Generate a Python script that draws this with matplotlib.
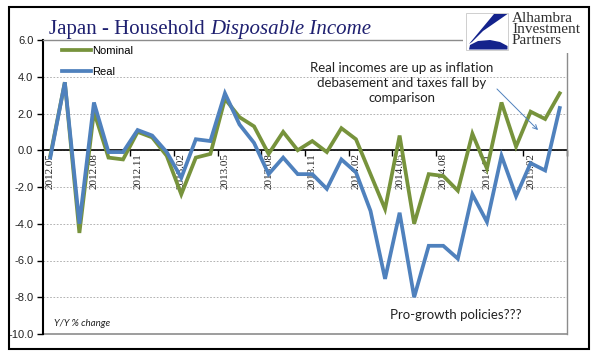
"""
Japan - Household Disposable Income, Y/Y % change (nominal vs real).
Recreates the Alhambra chart as out.png (596x361).
"""

import matplotlib
matplotlib.use("Agg")
import matplotlib.pyplot as plt
import numpy as np
from matplotlib.patches import Rectangle, Polygon

W, H = 596, 361

# monthly, 2012.05 .. 2015.04
tick_labels = ["2012.05", "2012.08", "2012.11", "2013.02", "2013.05", "2013.08",
               "2013.11", "2014.02", "2014.05", "2014.08", "2014.11", "2015.02"]
nominal = [-0.3, 3.7, -4.5, 2.1, -0.4, -0.5, 1.0, 0.7, -0.3, -2.4, -0.4, -0.2,
           2.8, 1.8, 1.3, -0.2, 1.0, 0.0, 0.5, -0.1, 1.2, 0.6, -1.3, -3.2,
           0.8, -4.0, -1.3, -1.4, -2.2, 0.9, -1.0, 2.6, 0.2, 2.1, 1.7, 3.1]
real = [-0.4, 3.7, -4.0, 2.6, -0.1, -0.1, 1.1, 0.8, -0.1, -1.5, 0.6, 0.5,
        3.1, 1.4, 0.4, -1.3, -0.4, -1.3, -1.3, -2.1, -0.5, -1.2, -3.3, -7.0,
        -3.4, -8.0, -5.2, -5.2, -5.9, -2.4, -3.9, -0.3, -2.5, -0.7, -1.1, 2.3]

GREEN = "#77933c"
BLUE = "#4f81bd"
GRAY = "#8c8c8c"


def px(x, y):
    """pixel position (top-left origin) -> figure fraction"""
    return x / W, 1 - y / H


fig = plt.figure(figsize=(W / 100, H / 100), dpi=100)
fig.patch.set_facecolor("white")

# plot area: x 43..567, y 40..334 px
ax = fig.add_axes([43 / W, 1 - 334 / H, (567 - 43) / W, (334 - 40) / H])
x = np.arange(len(real))
ax.plot(x, nominal, color=GREEN, lw=2.7, label="Nominal", zorder=3, solid_joinstyle="miter")
ax.plot(x, real, color=BLUE, lw=2.7, label="Real", zorder=4, solid_joinstyle="miter")

ax.set_xlim(-0.5, len(real) - 0.5)
ax.set_ylim(-10, 6)
ax.set_yticks(np.arange(-10, 7, 2))
ax.set_yticklabels([f"{v:.1f}" for v in np.arange(-10, 7, 2)],
                   fontfamily="Liberation Sans", fontsize=8, color="#222222")
ax.tick_params(axis="y", direction="out", length=4, width=1, color="black", pad=3)
ax.grid(axis="y", color="#a6a6a6", lw=0.6, ls=(0, (2, 2)))

# category axis crosses at zero
ax.spines["bottom"].set_position(("data", 0))
ax.spines["bottom"].set_color("black")
ax.spines["bottom"].set_linewidth(1.2)
ax.spines["bottom"].set_zorder(2)
ax.set_xticks(np.arange(-0.5, len(real), 3)[1:])
ax.set_xticklabels([])
ax.tick_params(axis="x", which="major", direction="out", length=4, width=1, color="black")
ax.set_xticks(np.arange(0, len(real), 3), minor=True)
ax.set_xticklabels(tick_labels, minor=True, rotation=90, fontfamily="Liberation Serif",
                   fontsize=8, color="#222222")
ax.tick_params(axis="x", which="minor", length=0, pad=2)
ax.axhline(-10, color=GRAY, lw=1.2, clip_on=False, zorder=2)

ax.spines["left"].set_color("black")
ax.spines["left"].set_linewidth(1.5)
for s in ("top", "right"):
    ax.spines[s].set_color(GRAY)
    ax.spines[s].set_linewidth(1.0)

leg = ax.legend(loc="upper left", bbox_to_anchor=(px(52, 36)), bbox_transform=fig.transFigure,
                frameon=False, handlelength=2.6, handletextpad=0.1, labelspacing=0.95,
                prop={"family": "Liberation Sans", "size": 8})

# title
t1 = fig.text(*px(49, 34), "Japan - Household ", fontfamily="Liberation Serif",
              fontsize=15, color="#1f2070", va="baseline")
fig.canvas.draw()
bb = t1.get_window_extent()
fig.text(bb.x1 / W, 1 - 34 / H, "Disposable Income", fontfamily="Liberation Serif",
         fontstyle="italic", fontsize=15, color="#1f2070", va="baseline")

# annotations
fig.text(*px(402, 83), "Real incomes are up as inflation\ndebasement and taxes fall by\ncomparison",
         fontfamily="Lato", fontsize=9.5, ha="center", va="center", linespacing=1.35,
         color="#222222")
fig.text(*px(456, 315), "Pro-growth policies???", fontfamily="Lato", fontsize=9.5,
         ha="center", va="center", color="#222222")
fig.text(*px(54, 323), "Y/Y % change", fontfamily="Lato", fontstyle="italic",
         fontsize=7, ha="left", va="center", color="#222222")
ax.annotate("", xy=(540, H - 132), xycoords="figure pixels",
            xytext=(495, H - 87), textcoords="figure pixels",
            arrowprops=dict(arrowstyle="->", color=BLUE, lw=0.7, mutation_scale=8))

# logo block
lg = fig.add_axes([463 / W, 1 - 53 / H, (588 - 463) / W, (53 - 8) / H])
lg.set_xlim(463, 588)
lg.set_ylim(53, 8)
lg.set_xticks([])
lg.set_yticks([])
for s in lg.spines.values():
    s.set_visible(False)
lg.add_patch(Rectangle((466, 13), 42, 37, facecolor="white", edgecolor="#c8c8c8", lw=0.6))
lg.add_patch(Polygon([(494, 14), (507.5, 14), (483, 31), (472, 42), (469, 44)],
                     closed=True, facecolor="#14238c", edgecolor="none"))
lg.add_patch(Polygon([(469, 49.5), (470, 45), (478, 41), (490, 40), (500, 42), (507.5, 46),
                      (507.5, 49.5)], closed=True, facecolor="#14238c", edgecolor="none"))
lg.text(512, 12, "Alhambra\nInvestment\nPartners", fontfamily="Liberation Serif",
        fontsize=11, color="#2e2e2e", ha="left", va="top", linespacing=0.8)

# outer frame
fig.patches.append(Rectangle(px(9, 349), 580 / W, 342 / H, transform=fig.transFigure,
                             fill=False, edgecolor="black", lw=1.5))

fig.savefig("out.png", dpi=100)
